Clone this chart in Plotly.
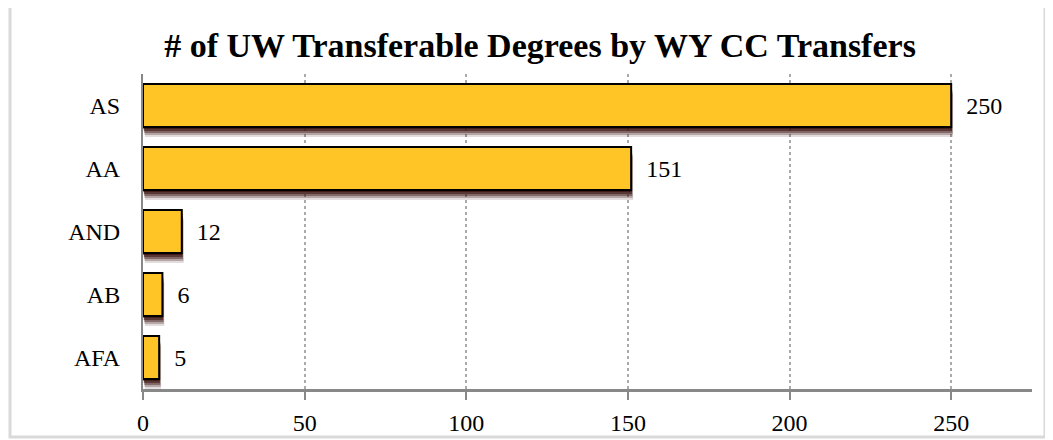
import plotly.graph_objects as go

categories = ["AS", "AA", "AND", "AB", "AFA"]
values = [250, 151, 12, 6, 5]
tick_vals = [0, 50, 100, 150, 200, 250]
title_text = "# of UW Transferable Degrees by WY CC Transfers"

FONT = "Liberation Serif"
BAR_W = 0.68
PX_PER_CAT = 63.0
# page body has an 8px margin; figure is sized/positioned to compensate
W, H = 1045, 432

fig = go.Figure()

# soft drop shadow layers (same data, shifted slightly down)
for k, a in [(5, 0.15), (4, 0.28), (3, 0.42), (2, 0.6), (1, 0.8)]:
    fig.add_trace(go.Bar(
        y=categories, x=values, orientation="h",
        width=BAR_W,
        offset=-BAR_W / 2 + k * 2.0 / PX_PER_CAT,
        base=k * 0.12,
        marker=dict(color=f"rgba(60,22,18,{a})", line=dict(width=0)),
        hoverinfo="skip", showlegend=False,
    ))

fig.add_trace(go.Bar(
    y=categories, x=values, orientation="h",
    width=BAR_W, offset=-BAR_W / 2,
    marker=dict(color="#FFC425", line=dict(color="#000000", width=2)),
    text=values, texttemplate="\u00a0\u00a0%{x}", textposition="outside",
    textfont=dict(family=FONT, size=24, color="#000000"),
    cliponaxis=False, showlegend=False,
))

fig.update_layout(
    width=W, height=H,
    margin=dict(l=135, r=21, t=66, b=51, autoexpand=False),
    paper_bgcolor="white", plot_bgcolor="white",
    barmode="overlay",
    font=dict(family=FONT, size=24, color="#000000"),
    title=dict(text="<b>" + title_text + "</b>", x=532 / W, xanchor="center",
               y=1 - 37 / H, yanchor="middle",
               font=dict(family=FONT, size=34, color="#000000")),
    xaxis=dict(range=[0, 275], tickvals=tick_vals, showgrid=True,
               gridcolor="#aaaaaa", griddash="dot", gridwidth=1.5,
               zeroline=False, showline=True, linecolor="#888888", linewidth=3,
               ticks="outside", ticklen=8, tickwidth=2, tickcolor="#888888",
               ticklabelstandoff=2, automargin=False,
               tickfont=dict(family=FONT, size=24, color="#000000")),
    yaxis=dict(categoryorder="array", categoryarray=categories,
               range=[4.5, -0.5], showgrid=False, zeroline=False,
               showline=True, linecolor="#888888", linewidth=2,
               ticks="", ticklabelstandoff=16, automargin=False,
               tickfont=dict(family=FONT, size=24, color="#000000")),
    shapes=[dict(type="rect", xref="paper", yref="paper",
                 x0=(10 - 143) / 889, x1=(1045 - 143) / 889,
                 y0=(389 - 437) / 315, y1=(389 - 5) / 315,
                 line=dict(color="#d9d9d9", width=3), layer="below")],
)

fig.write_html("out.html")
